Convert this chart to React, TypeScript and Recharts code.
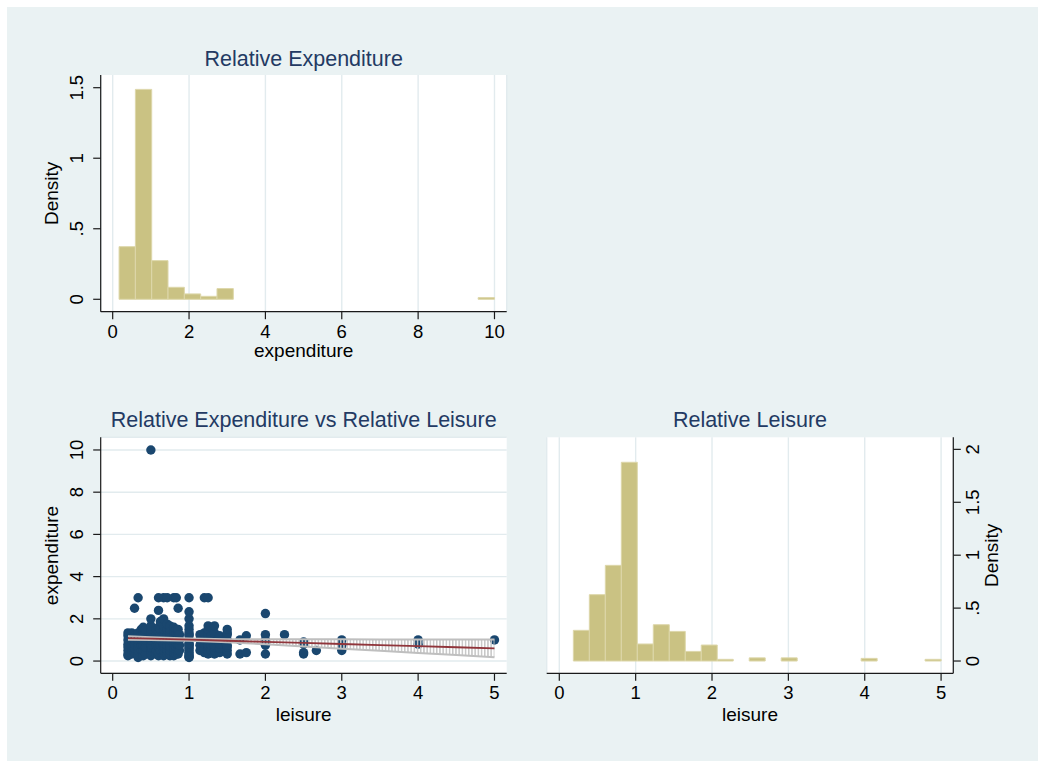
import React from 'react';
import {
  ComposedChart,
  XAxis,
  YAxis,
  CartesianGrid,
  ReferenceArea,
  Scatter,
  Line,
  Area,
} from 'recharts';

const FONT = '"Liberation Sans", Arial, Helvetica, sans-serif';
const NAVY = '#1a476f';
const MAROON = '#90353b';
const KHAKI = '#cac283';
const KHAKI_EDGE = '#ddd7aa';
const PANEL_BG = '#eaf2f3';
const GRID = '#e2ebee';
const TITLE_COLOR = '#233a63';
const AXIS_COLOR = '#1a1a1a';
const CI_COLOR = '#bfbfbf';

// ---- Relative expenditure histogram (density per bin) ----
const expenditureBinStart = 0.167;
const expenditureBinWidth = 0.4275;
const expenditureDensity = [
  0.373, 1.488, 0.274, 0.085, 0.038, 0.021, 0.076, 0, 0, 0, 0, 0, 0, 0, 0, 0, 0, 0,
  0, 0, 0, 0, 0.012,
];

// ---- Relative leisure histogram (density per bin) ----
const leisureBinStart = 0.184;
const leisureBinWidth = 0.2094;
const leisureDensity = [
  0.29, 0.627, 0.904, 1.878, 0.161, 0.343, 0.28, 0.091, 0.151, 0.016, 0, 0.03, 0,
  0.03, 0, 0, 0, 0, 0.025, 0, 0, 0, 0.016,
];

// ---- Tick labels ----
const expenditureTicks = [0, 2, 4, 6, 8, 10];
const expenditureDensityTicks = [0, 0.5, 1, 1.5];
const leisureTicks = [0, 1, 2, 3, 4, 5];
const leisureDensityTicks = [0, 0.5, 1, 1.5, 2];

// ---- Observations: leisure value with the expenditure values seen at it ----
const scatterColumns: [number, number[]][] = [
  [0.2, [0.25, 0.333, 0.5, 0.667, 0.8, 1.0, 1.2, 1.333]],
  [0.25, [0.333, 0.5, 0.667, 0.75, 1.0, 1.25, 1.333]],
  [0.286, [0.4, 0.6, 0.8, 1.0, 1.2, 2.5]],
  [0.333, [0.167, 0.333, 0.5, 0.667, 0.833, 1.0, 1.167, 1.333, 3.0]],
  [0.375, [0.5, 0.75, 1.0, 1.25, 1.5]],
  [0.4, [0.25, 0.5, 0.75, 1.0, 1.25, 1.5, 1.6]],
  [0.429, [0.333, 0.667, 1.0, 1.333, 1.5]],
  [0.5, [0.25, 0.333, 0.5, 0.6, 0.667, 0.75, 0.8, 1.0, 1.2, 1.25, 1.333, 1.5, 1.667, 2.0, 10.0]],
  [0.571, [0.333, 0.5, 0.75, 1.0, 1.25, 1.5]],
  [0.6, [0.25, 0.4, 0.667, 0.8, 1.0, 1.2, 1.4, 1.6, 2.4, 3.0]],
  [0.625, [0.5, 0.75, 1.0, 1.25, 1.5, 1.875]],
  [0.667, [0.25, 0.333, 0.5, 0.667, 0.75, 0.833, 1.0, 1.167, 1.333, 1.5, 1.667, 2.0, 3.0]],
  [0.714, [0.333, 0.5, 0.75, 1.0, 1.2, 1.5, 1.75, 3.0]],
  [0.75, [0.25, 0.333, 0.5, 0.667, 0.75, 1.0, 1.25, 1.333, 1.5, 1.667]],
  [0.8, [0.25, 0.4, 0.5, 0.6, 0.8, 1.0, 1.2, 1.4, 1.6, 3.0]],
  [0.833, [0.333, 0.5, 0.667, 0.833, 1.0, 1.167, 1.333, 1.5, 3.0]],
  [0.857, [0.333, 0.5, 0.75, 1.0, 1.25, 1.5, 2.5]],
  [0.875, [0.5, 0.75, 1.0, 1.25]],
  [1.0, [0.167, 0.2, 0.25, 0.333, 0.4, 0.5, 0.6, 0.667, 0.75, 0.8, 0.833, 1.0, 1.2, 1.25, 1.333, 1.5, 1.667, 2.0, 2.333, 3.0]],
  [1.143, [0.5, 0.75, 1.0, 1.25]],
  [1.167, [0.5, 0.667, 0.833, 1.0, 1.2]],
  [1.2, [0.4, 0.6, 0.8, 1.0, 1.2, 1.333, 3.0]],
  [1.25, [0.333, 0.5, 0.667, 0.75, 1.0, 1.25, 1.5, 1.667, 3.0]],
  [1.286, [0.5, 0.75, 1.0, 1.2]],
  [1.333, [0.333, 0.5, 0.667, 0.75, 1.0, 1.333, 1.667]],
  [1.4, [0.4, 0.6, 0.8, 1.0, 1.2]],
  [1.5, [0.333, 0.5, 0.667, 0.75, 1.0, 1.25, 1.333, 1.5]],
  [1.667, [0.333, 1.0]],
  [1.75, [0.4, 1.2]],
  [2.0, [0.333, 0.75, 1.0, 1.25, 2.25]],
  [2.25, [1.25]],
  [2.5, [0.333, 0.4, 0.8, 0.9]],
  [2.667, [0.5]],
  [3.0, [0.5, 0.75, 1.0]],
  [4.0, [0.8, 1.0]],
  [5.0, [1.0]],
];

// ---- Linear fit with its confidence band ----
const fitLeisure = [0.2, 0.5, 1, 1.5, 2, 2.5, 3, 3.5, 4, 4.5, 5];
const fitExpenditure = [1.09, 1.066, 1.014, 0.963, 0.911, 0.86, 0.808, 0.756, 0.705, 0.653, 0.6];
const ciLower = [1.005, 1.001, 0.964, 0.893, 0.791, 0.69, 0.588, 0.486, 0.385, 0.283, 0.18];
const ciUpper = [1.175, 1.131, 1.064, 1.033, 1.031, 1.03, 1.028, 1.026, 1.025, 1.023, 1.02];

// ---- Derived tables ----
const toBins = (start: number, width: number, density: number[]) =>
  density
    .map((d, i) => ({ lo: start + i * width, hi: start + (i + 1) * width, density: d }))
    .filter((b) => b.density > 0);

const expenditureBins = toBins(expenditureBinStart, expenditureBinWidth, expenditureDensity);
const leisureBins = toBins(leisureBinStart, leisureBinWidth, leisureDensity);

const scatterPoints = scatterColumns.flatMap(([leisure, values]) =>
  values.map((expenditure) => ({ leisure, expenditure }))
);

const fitRows = fitLeisure.map((leisure, i) => ({
  leisure,
  fit: fitExpenditure[i],
  lo: ciLower[i],
  hi: ciUpper[i],
  band: [ciLower[i], ciUpper[i]],
}));

const fmt = (v: number) => (v === 0 ? '0' : String(v).replace(/^0\./, '.'));

const TICK_SIZE = 7.5;
const TICK_FONT = 18.5;

const XTick = (props: any) => {
  const { x, y, payload } = props;
  return (
    <text x={x} y={y + 18.5} textAnchor="middle" fontSize={TICK_FONT} fontFamily={FONT} fill="#000">
      {fmt(payload.value)}
    </text>
  );
};

const YTickLeft = (props: any) => {
  const { x, y, payload } = props;
  const bx = x - 9.7;
  return (
    <text
      x={bx}
      y={y}
      transform={`rotate(-90 ${bx} ${y})`}
      textAnchor="middle"
      fontSize={TICK_FONT}
      fontFamily={FONT}
      fill="#000"
    >
      {fmt(payload.value)}
    </text>
  );
};

const YTickRight = (props: any) => {
  const { x, y, payload } = props;
  const bx = x + 18.5;
  return (
    <text
      x={bx}
      y={y}
      transform={`rotate(-90 ${bx} ${y})`}
      textAnchor="middle"
      fontSize={TICK_FONT}
      fontFamily={FONT}
      fill="#000"
    >
      {fmt(payload.value)}
    </text>
  );
};

const Dot = (props: any) => {
  const { cx, cy } = props;
  if (cx == null || cy == null) return null;
  return <circle cx={cx} cy={cy} r={4.7} fill={NAVY} />;
};

const axisLineStyle = { stroke: AXIS_COLOR, strokeWidth: 1.2 };
const tickLineStyle = { stroke: AXIS_COLOR, strokeWidth: 1.2 };

const Title = ({ x, y, text }: { x: number; y: number; text: string }) => (
  <text x={x} y={y} textAnchor="middle" fontSize={21.5} fontFamily={FONT} fill={TITLE_COLOR}>
    {text}
  </text>
);

const AxisTitle = ({ x, y, text, vertical }: { x: number; y: number; text: string; vertical?: boolean }) => (
  <text
    x={x}
    y={y}
    textAnchor="middle"
    fontSize={19}
    fontFamily={FONT}
    fill="#000"
    transform={vertical ? `rotate(-90 ${x} ${y})` : undefined}
  >
    {text}
  </text>
);

export default function App() {
  return (
    <div
      style={{
        position: 'absolute',
        left: 0,
        top: 0,
        width: 1038,
        height: 761,
        background: '#ffffff',
        overflow: 'hidden',
        fontFamily: FONT,
      }}
    >
      <div style={{ position: 'absolute', left: 7, top: 7, right: 0, bottom: 0, background: PANEL_BG }} />

      <svg width={0} height={0} style={{ position: 'absolute' }}>
        <defs>
          <pattern id="ciHatch" patternUnits="userSpaceOnUse" width={3.2} height={8}>
            <rect x={0} y={0} width={1.5} height={8} fill="#c6c6c6" />
          </pattern>
        </defs>
      </svg>

      {/* Histogram of relative expenditure */}
      <div style={{ position: 'absolute', left: 20, top: 30 }}>
        <ComposedChart
          width={500}
          height={345}
          data={expenditureBins}
          margin={{ top: 45, right: 13.3, bottom: 0, left: 0 }}
        >
          <CartesianGrid horizontal={false} stroke={GRID} strokeWidth={1.4} fill="#ffffff" fillOpacity={1} />
          <XAxis
            type="number"
            dataKey="lo"
            domain={[-0.314, 10.32]}
            allowDataOverflow
            ticks={expenditureTicks}
            interval={0}
            height={63.3}
            tickSize={TICK_SIZE}
            tickMargin={0}
            axisLine={axisLineStyle}
            tickLine={tickLineStyle}
            tick={<XTick />}
          />
          <YAxis
            type="number"
            dataKey="density"
            domain={[-0.088, 1.59]}
            allowDataOverflow
            ticks={expenditureDensityTicks}
            interval={0}
            width={80.7}
            tickSize={TICK_SIZE}
            tickMargin={0}
            axisLine={axisLineStyle}
            tickLine={tickLineStyle}
            tick={<YTickLeft />}
          />
          {expenditureBins.map((b, i) => (
            <ReferenceArea
              key={`e${i}`}
              x1={b.lo}
              x2={b.hi}
              y1={0}
              y2={b.density}
              fill={KHAKI}
              fillOpacity={1}
              stroke={KHAKI_EDGE}
              strokeWidth={1}
              ifOverflow="visible"
            />
          ))}
        </ComposedChart>
      </div>

      {/* Expenditure against leisure with linear fit */}
      <div style={{ position: 'absolute', left: 20, top: 392 }}>
        <ComposedChart width={500} height={345} margin={{ top: 45.3, right: 13.3, bottom: 0, left: 0 }}>
          <CartesianGrid vertical={false} stroke={GRID} strokeWidth={1.4} fill="#ffffff" fillOpacity={1} />
          <XAxis
            type="number"
            dataKey="leisure"
            domain={[-0.157, 5.16]}
            allowDataOverflow
            ticks={leisureTicks}
            interval={0}
            height={63.7}
            tickSize={TICK_SIZE}
            tickMargin={0}
            axisLine={axisLineStyle}
            tickLine={tickLineStyle}
            tick={<XTick />}
          />
          <YAxis
            type="number"
            dataKey="expenditure"
            domain={[-0.58, 10.6]}
            allowDataOverflow
            ticks={expenditureTicks}
            interval={0}
            width={80.7}
            tickSize={TICK_SIZE}
            tickMargin={0}
            axisLine={axisLineStyle}
            tickLine={tickLineStyle}
            tick={<YTickLeft />}
          />
          <Scatter
            data={scatterPoints}
            dataKey="expenditure"
            shape={<Dot />}
            isAnimationActive={false}
            zIndex={100}
          />
          <Area
            data={fitRows}
            dataKey="band"
            type="linear"
            stroke="none"
            fill="url(#ciHatch)"
            fillOpacity={1}
            isAnimationActive={false}
            dot={false}
            activeDot={false}
            zIndex={300}
          />
          <Line
            data={fitRows}
            dataKey="lo"
            type="linear"
            stroke={CI_COLOR}
            strokeWidth={2}
            dot={false}
            activeDot={false}
            isAnimationActive={false}
            zIndex={350}
          />
          <Line
            data={fitRows}
            dataKey="hi"
            type="linear"
            stroke={CI_COLOR}
            strokeWidth={2}
            dot={false}
            activeDot={false}
            isAnimationActive={false}
            zIndex={350}
          />
          <Line
            data={fitRows}
            dataKey="fit"
            type="linear"
            stroke={MAROON}
            strokeWidth={1.8}
            dot={false}
            activeDot={false}
            isAnimationActive={false}
            zIndex={400}
          />
        </ComposedChart>
      </div>

      {/* Histogram of relative leisure */}
      <div style={{ position: 'absolute', left: 530, top: 392 }}>
        <ComposedChart
          width={500}
          height={345}
          data={leisureBins}
          margin={{ top: 45.3, right: 0, bottom: 0, left: 16.7 }}
        >
          <CartesianGrid horizontal={false} stroke={GRID} strokeWidth={1.4} fill="#ffffff" fillOpacity={1} />
          <XAxis
            type="number"
            dataKey="lo"
            domain={[-0.165, 5.16]}
            allowDataOverflow
            ticks={leisureTicks}
            interval={0}
            height={63.7}
            tickSize={TICK_SIZE}
            tickMargin={0}
            axisLine={axisLineStyle}
            tickLine={tickLineStyle}
            tick={<XTick />}
          />
          <YAxis
            type="number"
            dataKey="density"
            orientation="right"
            domain={[-0.116, 2.114]}
            allowDataOverflow
            ticks={leisureDensityTicks}
            interval={0}
            width={76.7}
            tickSize={TICK_SIZE}
            tickMargin={0}
            axisLine={axisLineStyle}
            tickLine={tickLineStyle}
            tick={<YTickRight />}
          />
          {leisureBins.map((b, i) => (
            <ReferenceArea
              key={`l${i}`}
              x1={b.lo}
              x2={b.hi}
              y1={0}
              y2={b.density}
              fill={KHAKI}
              fillOpacity={1}
              stroke={KHAKI_EDGE}
              strokeWidth={1}
              ifOverflow="visible"
            />
          ))}
        </ComposedChart>
      </div>

      {/* Titles and axis titles */}
      <svg
        width={1038}
        height={761}
        style={{ position: 'absolute', left: 0, top: 0, pointerEvents: 'none' }}
      >
        <Title x={303.7} y={66} text="Relative Expenditure" />
        <Title x={303.7} y={426.7} text="Relative Expenditure vs Relative Leisure" />
        <Title x={750} y={426.7} text="Relative Leisure" />

        <AxisTitle x={303.7} y={357} text="expenditure" />
        <AxisTitle x={58} y={193.4} text="Density" vertical />

        <AxisTitle x={303.7} y={720.5} text="leisure" />
        <AxisTitle x={58} y={555.5} text="expenditure" vertical />

        <AxisTitle x={750} y={720.5} text="leisure" />
        <AxisTitle x={997.7} y={555.3} text="Density" vertical />
      </svg>
    </div>
  );
}
